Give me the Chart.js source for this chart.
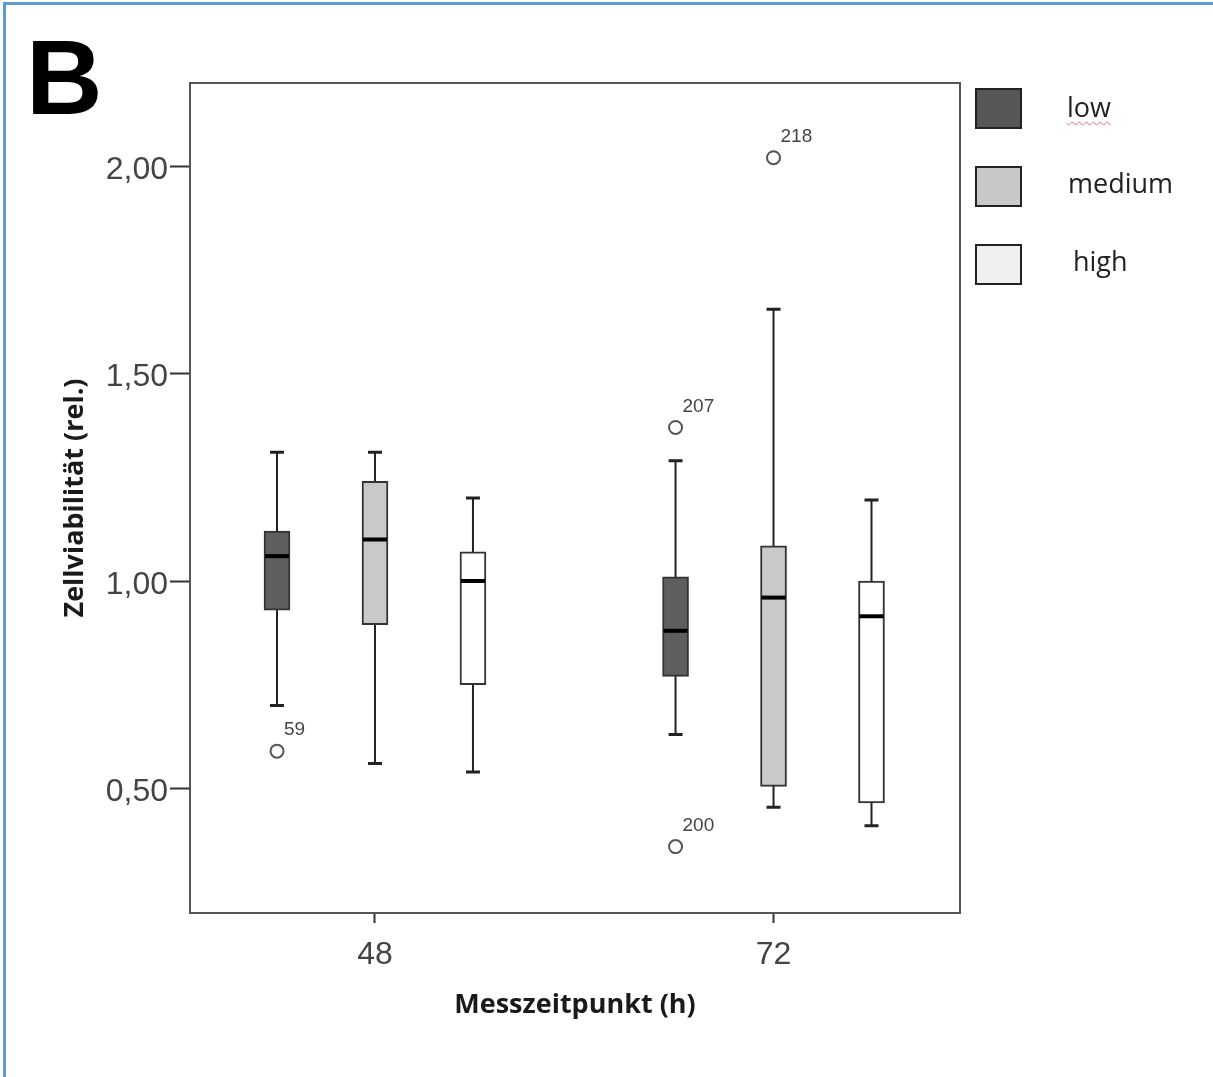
<!DOCTYPE html>
<html>
<head>
<meta charset="utf-8">
<script src="https://cdn.jsdelivr.net/npm/chart.js@4.4.1/dist/chart.umd.min.js"></script>
<style>
  html, body { margin: 0; padding: 0; background: #fff; }
  #wrap { position: relative; width: 1213px; height: 1077px; overflow: hidden; background: #fff; }
  #edgeTop { position: absolute; left: 3px; top: 2px; width: 1210px; height: 3px; background: #5b9bd5; }
  #edgeLeft { position: absolute; left: 3px; top: 2px; width: 3px; height: 1075px; background: #5b9bd5; }
  #letter { position: absolute; left: 26px; top: 24px; font: bold 106px "Liberation Sans", Arial, sans-serif; line-height: 1; color: #000; }
  canvas { position: absolute; left: 0; top: 0; }
  .swatch { position: absolute; left: 975px; width: 47px; height: 41px; box-sizing: border-box; border: 2px solid #222; }
  .legtxt { position: absolute; font: 27px "Open Sans", sans-serif; color: #222; line-height: 1; }
</style>
</head>
<body>
<div id="wrap">
  <div id="edgeTop"></div>
  <div id="edgeLeft"></div>
  <canvas id="box" width="1213" height="1077"></canvas>
  <div id="letter">B</div>
  <div id="legend"></div>
</div>
<script>
// Messzeitpunkte und Gruppen
const categories = [48, 72];
const groups = ['low', 'medium', 'high'];

// Kennwerte je Gruppe (Zeile) und Zeitpunkt (Spalte)
const whiskerLow  = [[0.70, 0.63], [0.56, 0.455], [0.54, 0.41]];
const boxQ1       = [[0.93, 0.77], [0.895, 0.505], [0.75, 0.465]];
const medians     = [[1.06, 0.88], [1.10, 0.96], [1.00, 0.915]];
const boxQ3       = [[1.12, 1.01], [1.24, 1.085], [1.07, 1.00]];
const whiskerHigh = [[1.31, 1.29], [1.31, 1.655], [1.20, 1.195]];

// Ausreißer
const outlierGroup = [0, 0, 0, 1];
const outlierCat   = [48, 72, 72, 72];
const outlierValue = [0.59, 1.37, 0.36, 2.02];
const outlierLabel = ['59', '207', '200', '218'];

const yTicks = [0.5, 1.0, 1.5, 2.0];

const boxFill = ['#5e5e5e', '#c9c9c9', '#ffffff'];
const legendFill = ['#575757', '#c8c8c8', '#f0f0f0'];
const groupShift = 5.9; // Abstand der Boxen in Stunden-Einheiten
const xPos = (cat, g) => cat + (g - 1) * groupShift;

// Legende rechts
const legend = document.getElementById('legend');
const swatchTop = [88, 166, 244];
const textTop = [93, 169, 247];
const textLeft = [1067, 1068, 1073];
groups.forEach((name, g) => {
  const sw = document.createElement('div');
  sw.className = 'swatch';
  sw.style.top = swatchTop[g] + 'px';
  sw.style.background = legendFill[g];
  legend.appendChild(sw);
  const tx = document.createElement('div');
  tx.className = 'legtxt';
  tx.style.top = textTop[g] + 'px';
  tx.style.left = textLeft[g] + 'px';
  tx.textContent = name;
  if (g === 0) {
    tx.style.textDecoration = 'underline wavy #e07070';
    tx.style.textDecorationThickness = '1px';
    tx.style.textUnderlineOffset = '4px';
  }
  legend.appendChild(tx);
});

const datasets = groups.map((name, g) => ({
  type: 'bar',
  label: name,
  data: categories.map((c, i) => ({ x: xPos(c, g), y: [boxQ1[g][i], boxQ3[g][i]] })),
  backgroundColor: boxFill[g],
  borderColor: '#333',
  borderWidth: 2,
  borderSkipped: false,
  barThickness: 26,
  grouped: false,
  order: 2
}));
datasets.push({
  type: 'scatter',
  label: 'Ausreißer',
  data: outlierValue.map((v, k) => ({ x: xPos(outlierCat[k], outlierGroup[k]), y: v })),
  pointStyle: 'circle',
  pointRadius: 6.5,
  borderWidth: 2,
  borderColor: '#555',
  backgroundColor: '#fff',
  order: 1
});

// Whisker, Mediane, Beschriftung der Ausreißer und Rahmen
const boxParts = {
  id: 'boxParts',
  beforeDatasetsDraw(chart) {
    const ctx = chart.ctx, y = chart.scales.y;
    ctx.save();
    ctx.strokeStyle = '#222';
    groups.forEach((name, g) => {
      chart.getDatasetMeta(g).data.forEach((el, i) => {
        const lo = y.getPixelForValue(whiskerLow[g][i]);
        const hi = y.getPixelForValue(whiskerHigh[g][i]);
        ctx.lineWidth = 2;
        ctx.beginPath();
        ctx.moveTo(el.x, hi); ctx.lineTo(el.x, lo);
        ctx.stroke();
        ctx.lineWidth = 3;
        ctx.beginPath();
        ctx.moveTo(el.x - 7, hi); ctx.lineTo(el.x + 7, hi);
        ctx.moveTo(el.x - 7, lo); ctx.lineTo(el.x + 7, lo);
        ctx.stroke();
      });
    });
    ctx.restore();
  },
  afterDatasetsDraw(chart) {
    const ctx = chart.ctx, y = chart.scales.y;
    ctx.save();
    ctx.strokeStyle = '#000';
    ctx.lineWidth = 4;
    groups.forEach((name, g) => {
      chart.getDatasetMeta(g).data.forEach((el, i) => {
        const m = y.getPixelForValue(medians[g][i]);
        ctx.beginPath();
        ctx.moveTo(el.x - el.width / 2 + 1, m); ctx.lineTo(el.x + el.width / 2 - 1, m);
        ctx.stroke();
      });
    });
    const pts = chart.getDatasetMeta(groups.length).data;
    ctx.fillStyle = '#444';
    ctx.font = '19px "Liberation Sans", Arial, sans-serif';
    ctx.textBaseline = 'middle';
    ctx.textAlign = 'left';
    pts.forEach((p, k) => ctx.fillText(outlierLabel[k], p.x + 7, p.y - 21));
    ctx.restore();
  },
  afterDraw(chart) {
    const a = chart.chartArea, ctx = chart.ctx;
    ctx.save();
    ctx.strokeStyle = '#555';
    ctx.lineWidth = 2;
    ctx.strokeRect(a.left, a.top, a.right - a.left, a.bottom - a.top);
    ctx.restore();
  }
};

const tickFont = { family: '"Liberation Sans", Arial, sans-serif', size: 32 };
const titleFont = { family: '"Open Sans", sans-serif', size: 27, weight: 'bold' };

new Chart(document.getElementById('box'), {
  type: 'bar',
  data: { datasets: datasets },
  plugins: [boxParts],
  options: {
    responsive: false,
    animation: false,
    events: [],
    layout: { padding: { top: 83, right: 253, left: 0, bottom: 0 } },
    plugins: { legend: { display: false }, tooltip: { enabled: false } },
    scales: {
      x: {
        type: 'linear',
        min: 36.86,
        max: 83.23,
        offset: false,
        afterBuildTicks: s => { s.ticks = categories.map(v => ({ value: v })); },
        afterFit: s => { s.height = 164; },
        grid: { display: true, offset: false, drawOnChartArea: false, tickLength: 10, tickColor: '#333', tickWidth: 2 },
        border: { display: true, color: '#555', width: 2 },
        ticks: { font: tickFont, color: '#444', padding: 13, autoSkip: false, maxRotation: 0, callback: v => String(v) },
        title: { display: true, text: 'Messzeitpunkt (h)', font: titleFont, color: '#1a1a1a', padding: { bottom: 55 } }
      },
      y: {
        type: 'linear',
        min: 0.2,
        max: 2.2,
        afterBuildTicks: s => { s.ticks = yTicks.map(v => ({ value: v })); },
        afterFit: s => { s.width = 190; },
        grid: { display: true, drawOnChartArea: false, tickLength: 20, tickColor: '#333', tickWidth: 2 },
        border: { display: true, color: '#555', width: 2 },
        ticks: { font: tickFont, color: '#444', padding: 2, labelOffset: 4, callback: v => v.toFixed(2).replace('.', ',') },
        title: { display: true, text: 'Zellviabilität (rel.)', font: titleFont, color: '#1a1a1a', padding: { top: 59 } }
      }
    }
  }
});
</script>
</body>
</html>
